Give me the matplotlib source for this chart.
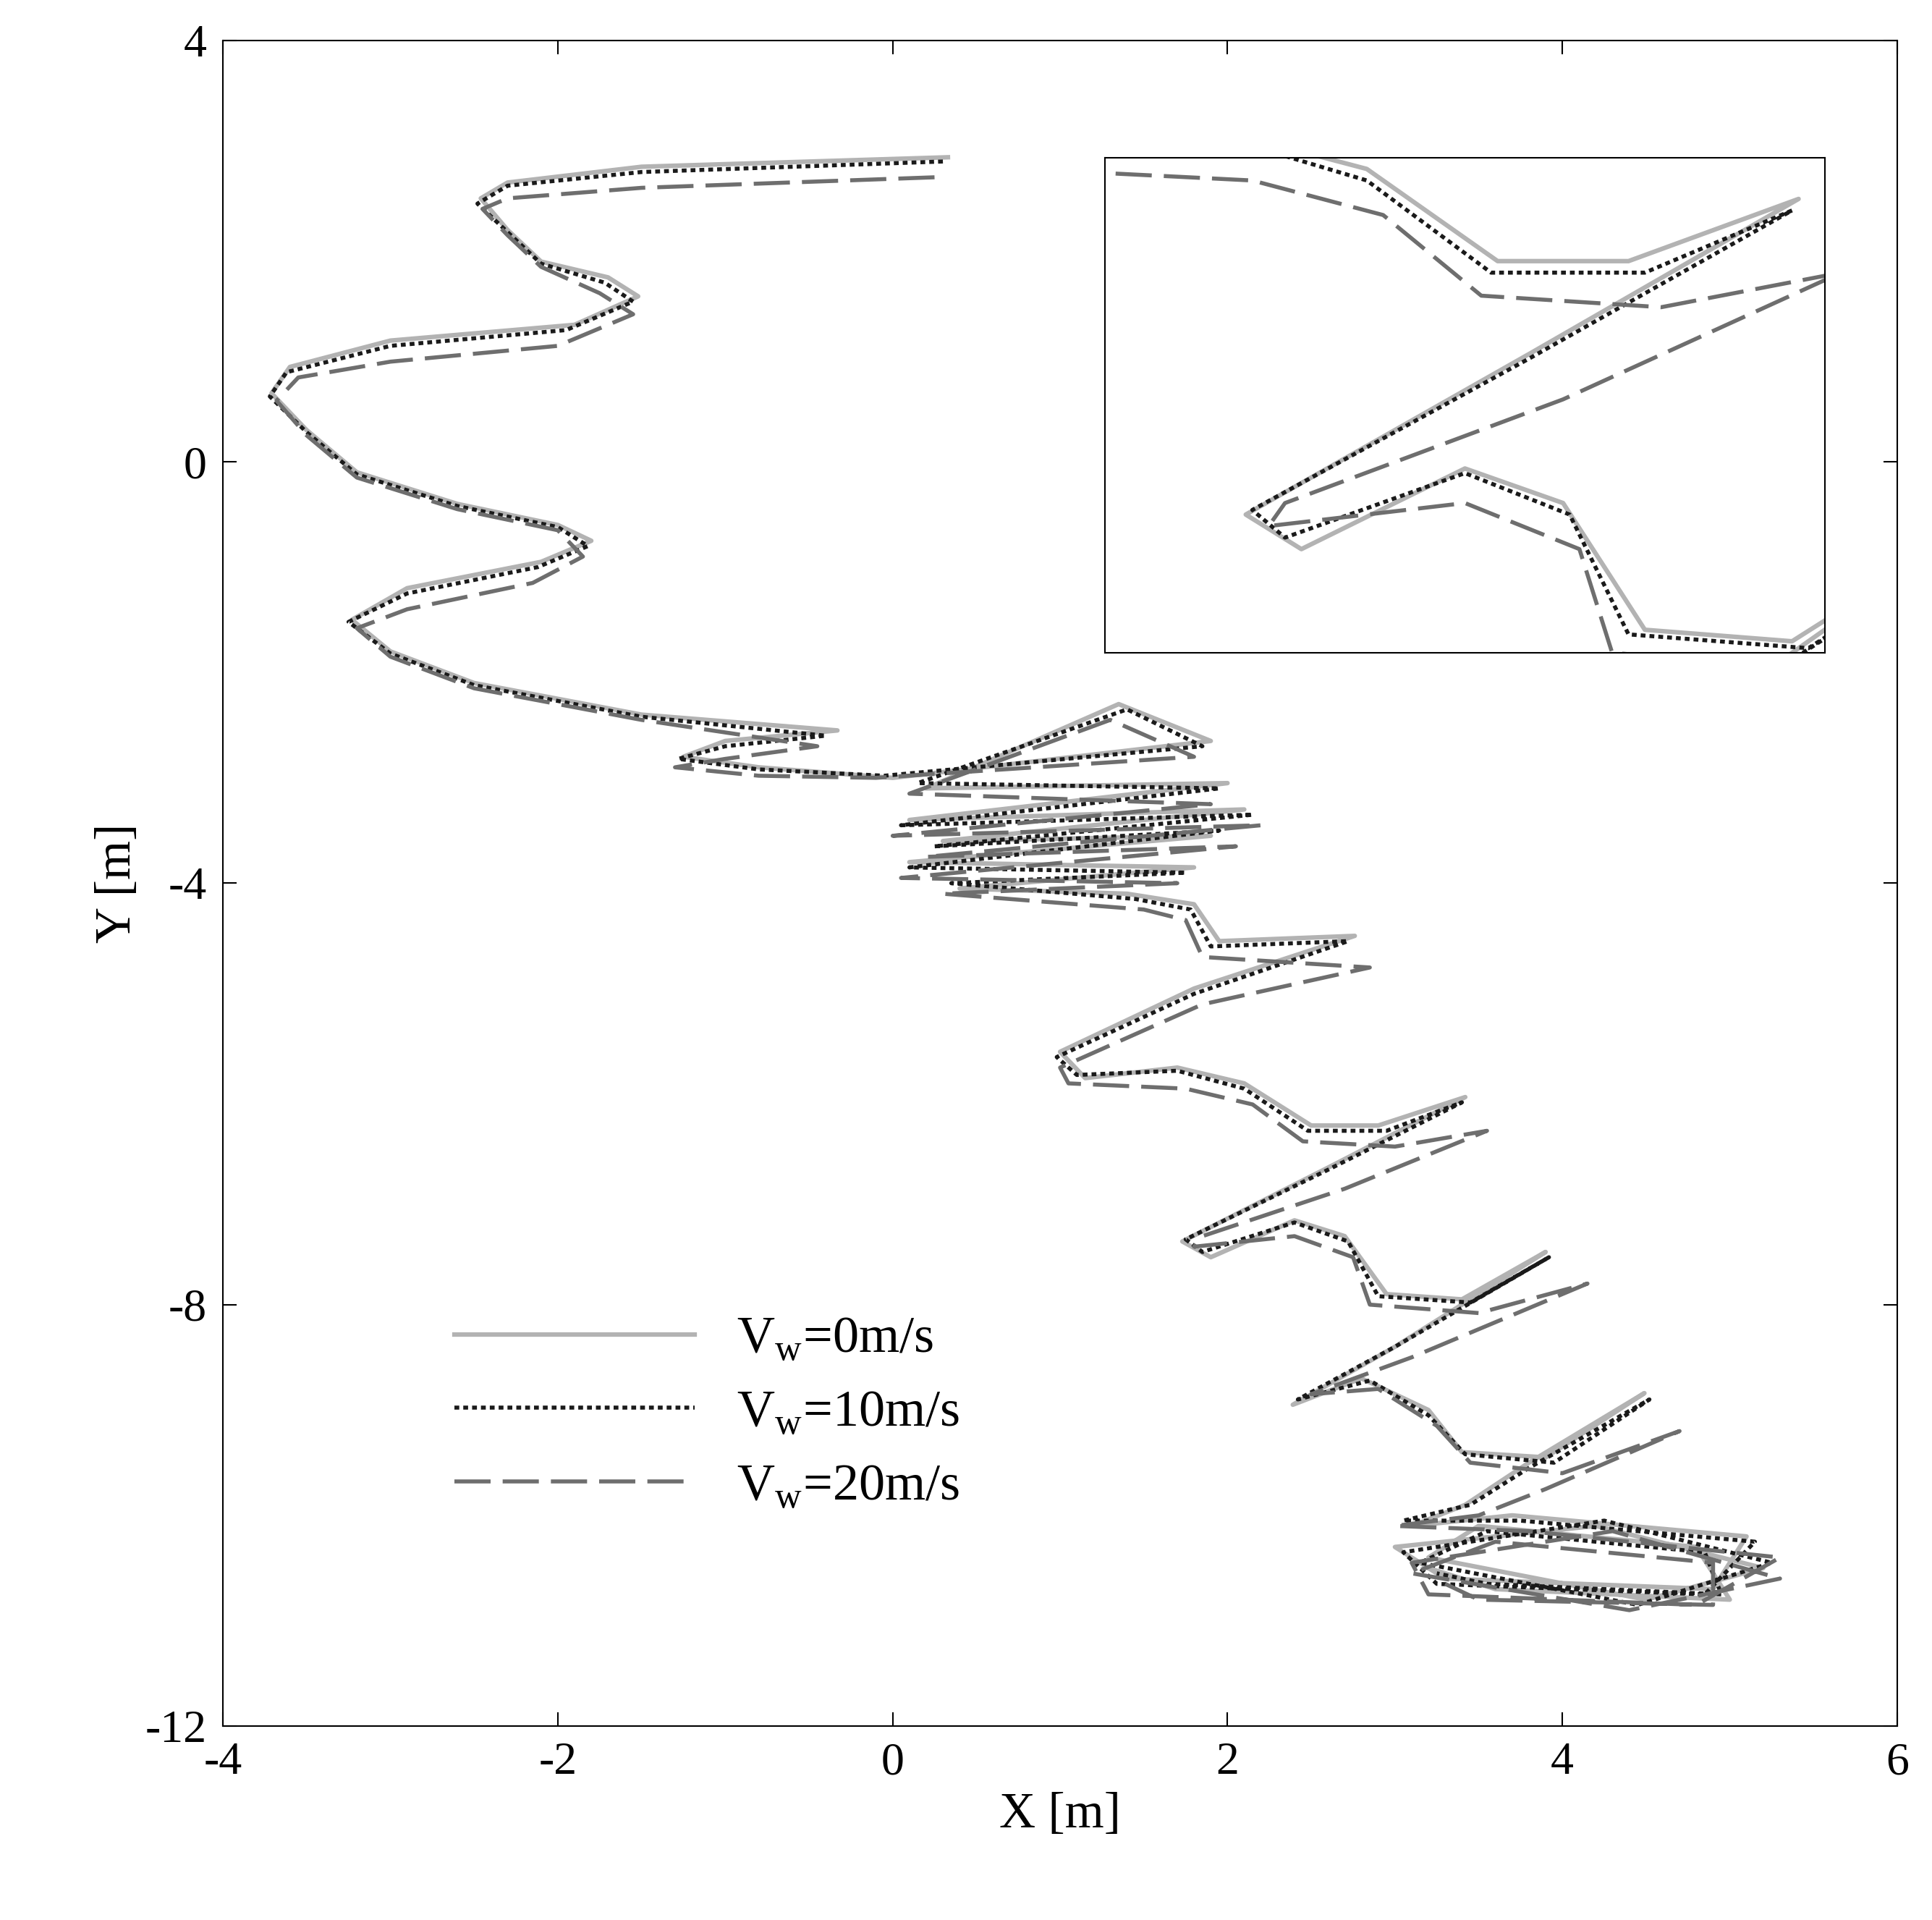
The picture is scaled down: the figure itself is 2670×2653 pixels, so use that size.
import matplotlib
matplotlib.use("Agg")
import matplotlib.pyplot as plt

plt.rcParams['font.family'] = ['Liberation Serif', 'DejaVu Serif']
plt.rcParams['axes.unicode_minus'] = False
plt.rcParams['mathtext.fontset'] = 'custom'
plt.rcParams['mathtext.rm'] = 'Liberation Serif'

# Vw = 0 m/s
x0 = [0.33,-1.5,-2.3,-2.46,-2.3,-2.1,-1.7,-1.52,-1.9,-3.0,-3.6,-3.71,-3.5,-3.2,-2.6,-2.0,-1.8,-2.1,-2.9,-3.23,-3.0,-2.5,-1.5,-0.33,-1.0,-1.25,-0.8,0.0,1.9,1.35,0.2,2.0,0.1,2.1,0.3,1.9,0.1,1.8,0.4,1.4,1.8,1.95,2.76,1.8,1.0,1.15,1.7,2.1,2.5,2.9,3.42,2.6,1.73,1.9,2.4,2.7,2.95,3.4,3.9,3.0,2.39,2.8,3.2,3.4,3.9,4.49,3.8,3.42,3.1,3.7,5.1,4.9,3.3,3.0,4.2,5.2,4.5,3.2,3.5,4.8,5.0,3.6,3.2]
y0 = [2.89,2.8,2.65,2.5,2.2,1.9,1.75,1.57,1.3,1.15,0.9,0.65,0.3,-0.1,-0.4,-0.6,-0.75,-0.95,-1.2,-1.5,-1.8,-2.1,-2.4,-2.55,-2.65,-2.8,-2.9,-3.0,-2.65,-2.3,-3.1,-3.05,-3.4,-3.3,-3.6,-3.55,-3.8,-3.85,-4.05,-4.1,-4.2,-4.55,-4.5,-5.0,-5.6,-5.85,-5.75,-5.9,-6.3,-6.3,-6.03,-6.7,-7.4,-7.55,-7.2,-7.35,-7.9,-7.95,-7.5,-8.4,-8.95,-8.7,-9.0,-9.4,-9.45,-8.84,-9.5,-9.9,-10.1,-10.0,-10.2,-10.7,-10.6,-10.3,-10.1,-10.5,-10.8,-10.4,-10.1,-10.3,-10.8,-10.7,-10.5]
# Vw = 10 m/s
x1 = [0.30,-1.5,-2.3,-2.48,-2.3,-2.1,-1.72,-1.55,-1.95,-3.0,-3.62,-3.72,-3.5,-3.2,-2.6,-2.0,-1.82,-2.12,-2.9,-3.25,-3.0,-2.5,-1.5,-0.4,-1.0,-1.28,-0.8,-0.05,1.85,1.4,0.15,1.95,0.05,2.15,0.25,1.95,0.1,1.75,0.35,1.45,1.78,1.9,2.72,1.8,0.98,1.1,1.7,2.1,2.48,2.95,3.4,2.6,1.75,1.85,2.4,2.72,2.9,3.45,3.92,3.0,2.42,2.85,3.2,3.42,3.95,4.52,3.8,3.45,3.05,3.75,5.15,4.85,3.25,3.05,4.25,5.25,4.45,3.15,3.55,4.85,4.95,3.55,3.25]
y1 = [2.85,2.75,2.62,2.45,2.18,1.88,1.7,1.52,1.25,1.1,0.85,0.62,0.28,-0.12,-0.42,-0.62,-0.8,-1.0,-1.25,-1.52,-1.82,-2.12,-2.42,-2.6,-2.7,-2.82,-2.92,-2.98,-2.7,-2.35,-3.05,-3.1,-3.45,-3.35,-3.65,-3.5,-3.85,-3.9,-4.0,-4.15,-4.25,-4.6,-4.55,-5.05,-5.65,-5.82,-5.78,-5.95,-6.35,-6.35,-6.08,-6.72,-7.38,-7.5,-7.22,-7.4,-7.92,-7.98,-7.55,-8.4,-8.9,-8.72,-9.05,-9.42,-9.5,-8.9,-9.55,-9.9,-10.05,-10.05,-10.25,-10.75,-10.65,-10.35,-10.05,-10.45,-10.85,-10.45,-10.15,-10.35,-10.75,-10.65,-10.55]
# Vw = 20 m/s
x2 = [0.25,-1.5,-2.3,-2.45,-2.3,-2.1,-1.75,-1.55,-2.0,-3.0,-3.55,-3.68,-3.5,-3.2,-2.6,-2.0,-1.85,-2.15,-2.9,-3.2,-3.0,-2.5,-1.5,-0.45,-1.0,-1.3,-0.8,-0.1,1.8,1.3,0.1,1.9,0.0,2.2,0.2,2.05,0.05,1.7,0.3,1.5,1.75,1.85,2.85,1.85,1.0,1.05,1.75,2.15,2.45,3.0,3.55,2.7,1.85,1.8,2.4,2.75,2.85,3.5,4.15,3.1,2.5,2.9,3.25,3.45,4.0,4.7,3.9,3.5,3.0,3.8,5.3,4.8,3.2,3.1,4.3,5.3,4.4,3.1,3.6,4.9,4.9,3.5,3.3]
y2 = [2.7,2.6,2.5,2.4,2.15,1.85,1.6,1.4,1.1,0.95,0.8,0.58,0.25,-0.15,-0.45,-0.65,-0.9,-1.15,-1.4,-1.58,-1.85,-2.15,-2.45,-2.7,-2.82,-2.9,-2.98,-3.0,-2.8,-2.45,-3.15,-3.25,-3.55,-3.45,-3.75,-3.65,-3.95,-4.0,-4.1,-4.25,-4.35,-4.7,-4.8,-5.15,-5.75,-5.9,-5.95,-6.1,-6.45,-6.5,-6.35,-6.9,-7.35,-7.45,-7.35,-7.55,-8.0,-8.08,-7.8,-8.5,-8.85,-8.8,-9.15,-9.5,-9.6,-9.2,-9.75,-10.0,-10.1,-10.15,-10.4,-10.85,-10.75,-10.45,-10.15,-10.6,-10.9,-10.55,-10.25,-10.45,-10.85,-10.8,-10.65]

styles = [
    dict(color='#b3b3b3', lw=4.5, ls='-', label=r'V$_{\rm w}$=0m/s'),
    dict(color='#1a1a1a', lw=4.0, ls=(0, (1.2, 1.0)), label=r'V$_{\rm w}$=10m/s'),
    dict(color='#6e6e6e', lw=4.0, ls=(0, (9, 3)), label=r'V$_{\rm w}$=20m/s'),
]
series = [(x0, y0), (x1, y1), (x2, y2)]

fig = plt.figure(figsize=(26.7, 26.53), dpi=100)
ax = fig.add_axes([0.1154, 0.101, 0.8666, 0.878])
for (x, y), st in zip(series, styles):
    ax.plot(x, y, **st)
ax.set_xlim(-4, 6)
ax.set_ylim(-12, 4)
ax.set_xticks([-4, -2, 0, 2, 4, 6])
ax.set_yticks([-12, -8, -4, 0, 4])
ax.tick_params(direction='in', length=14, width=1.5, labelsize=46, top=True, right=True, pad=16)
for s in ax.spines.values():
    s.set_linewidth(1.5)
ax.set_xlabel('X [m]', fontsize=50, labelpad=8)
ax.set_ylabel('Y [m]', fontsize=50, labelpad=4)
ax.legend(loc='lower left', bbox_to_anchor=(0.11, 0.1), frameon=False, fontsize=52,
          handlelength=4.6, labelspacing=0.5)

ins = fig.add_axes([0.572, 0.66, 0.3725, 0.258])
for (x, y), st in zip(series, styles):
    s2 = dict(st); s2.pop('label')
    ins.plot(x, y, **s2)
ins.set_xlim(1.3, 3.5)
ins.set_ylim(-8.0, -5.85)
ins.set_xticks([]); ins.set_yticks([])
for s in ins.spines.values():
    s.set_linewidth(1.5)

fig.savefig('out.png', dpi=100)
